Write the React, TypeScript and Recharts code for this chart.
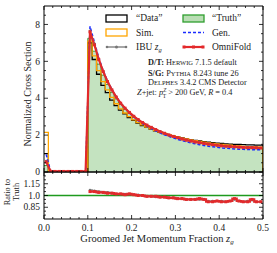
import React from 'react';
import { ComposedChart, Line, Area, XAxis, YAxis } from 'recharts';

// bin edges / centres (width 0.01)
const binLow = [
  0.0, 0.01, 0.02, 0.03, 0.04, 0.05, 0.06, 0.07, 0.08, 0.09,
  0.1, 0.11, 0.12, 0.13, 0.14, 0.15, 0.16, 0.17, 0.18, 0.19,
  0.2, 0.21, 0.22, 0.23, 0.24, 0.25, 0.26, 0.27, 0.28, 0.29,
  0.3, 0.31, 0.32, 0.33, 0.34, 0.35, 0.36, 0.37, 0.38, 0.39,
  0.4, 0.41, 0.42, 0.43, 0.44, 0.45, 0.46, 0.47, 0.48, 0.49,
];
const binMid = [
  0.005, 0.015, 0.025, 0.035, 0.045, 0.055, 0.065, 0.075, 0.085, 0.095,
  0.105, 0.115, 0.125, 0.135, 0.145, 0.155, 0.165, 0.175, 0.185, 0.195,
  0.205, 0.215, 0.225, 0.235, 0.245, 0.255, 0.265, 0.275, 0.285, 0.295,
  0.305, 0.315, 0.325, 0.335, 0.345, 0.355, 0.365, 0.375, 0.385, 0.395,
  0.405, 0.415, 0.425, 0.435, 0.445, 0.455, 0.465, 0.475, 0.485, 0.495,
];

// "Data" (detector level, Herwig)
const dataVals = [
  1.0, 0.02, 0.02, 0.02, 0.02, 0.02, 0.02, 0.02, 0.02, 0.02,
  7.0, 6.1, 5.3, 4.7, 4.3, 3.9, 3.6, 3.35, 3.15, 2.95,
  2.8, 2.65, 2.52, 2.42, 2.32, 2.23, 2.15, 2.08, 2.01, 1.95,
  1.9, 1.85, 1.8, 1.76, 1.72, 1.68, 1.65, 1.62, 1.59, 1.57,
  1.55, 1.53, 1.51, 1.5, 1.49, 1.48, 1.47, 1.47, 1.46, 1.46,
];
// Sim.
const simVals = [
  2.15, 0.02, 0.02, 0.02, 0.02, 0.02, 0.02, 0.02, 0.02, 0.02,
  7.1, 6.3, 5.5, 4.9, 4.45, 4.05, 3.7, 3.42, 3.2, 3.0,
  2.83, 2.68, 2.55, 2.44, 2.34, 2.25, 2.17, 2.09, 2.02, 1.96,
  1.9, 1.84, 1.79, 1.74, 1.7, 1.66, 1.62, 1.58, 1.55, 1.52,
  1.49, 1.47, 1.45, 1.43, 1.41, 1.39, 1.38, 1.37, 1.36, 1.35,
];
// "Truth"
const truthVals = [
  0.35, 0.02, 0.02, 0.02, 0.02, 0.02, 0.02, 0.02, 0.02, 0.02,
  7.25, 6.55, 5.85, 5.25, 4.75, 4.32, 3.96, 3.66, 3.4, 3.17,
  2.97, 2.8, 2.65, 2.52, 2.4, 2.29, 2.19, 2.1, 2.02, 1.95,
  1.88, 1.82, 1.76, 1.71, 1.66, 1.62, 1.58, 1.54, 1.5, 1.47,
  1.44, 1.42, 1.4, 1.38, 1.37, 1.36, 1.35, 1.34, 1.34, 1.33,
];
// Gen.
const genVals = [
  0.95, 0.05, 0.02, 0.02, 0.02, 0.02, 0.02, 0.02, 0.02, 0.02,
  7.9, 7.05, 6.2, 5.5, 4.95, 4.48, 4.08, 3.74, 3.45, 3.2,
  2.98, 2.79, 2.62, 2.48, 2.35, 2.23, 2.12, 2.02, 1.93, 1.85,
  1.77, 1.7, 1.64, 1.58, 1.53, 1.48, 1.44, 1.4, 1.37, 1.34,
  1.31, 1.29, 1.27, 1.25, 1.24, 1.23, 1.22, 1.21, 1.2, 1.2,
];
// IBU z_g
const ibuVals = [
  0.6, 0.04, 0.03, 0.03, 0.03, 0.03, 0.03, 0.03, 0.03, 0.03,
  7.65, 6.95, 6.12, 5.46, 4.9, 4.45, 4.06, 3.73, 3.46, 3.23,
  3.02, 2.84, 2.68, 2.54, 2.42, 2.3, 2.19, 2.1, 2.01, 1.93,
  1.86, 1.79, 1.73, 1.68, 1.63, 1.59, 1.55, 1.51, 1.48, 1.45,
  1.42, 1.4, 1.38, 1.37, 1.35, 1.33, 1.32, 1.32, 1.31, 1.3,
];
// OmniFold
const omniVals = [
  0.55, 0.04, 0.03, 0.03, 0.03, 0.03, 0.03, 0.03, 0.03, 0.03,
  7.6, 6.9, 6.1, 5.45, 4.9, 4.45, 4.06, 3.73, 3.46, 3.23,
  3.02, 2.84, 2.68, 2.54, 2.42, 2.3, 2.19, 2.1, 2.01, 1.93,
  1.86, 1.79, 1.73, 1.68, 1.63, 1.59, 1.55, 1.51, 1.48, 1.45,
  1.42, 1.4, 1.38, 1.37, 1.35, 1.33, 1.32, 1.32, 1.31, 1.3,
];

// ratio panel, bins from 0.10 to 0.50
const ratioMid = binMid.slice(10);
const omniRatio = [
  1.05, 1.05, 1.04, 1.04, 1.03, 1.03, 1.02, 1.02, 1.01, 1.02,
  1.01, 1.0, 1.0, 0.99, 0.99, 0.99, 0.98, 0.98, 0.97, 0.97,
  0.96, 0.96, 0.95, 0.95, 0.95, 0.96, 0.95, 0.92, 0.92, 0.93,
  0.92, 0.92, 0.93, 0.96, 0.93, 0.92, 0.92, 0.95, 0.92, 0.92,
];
const ibuRatio = [
  1.07, 1.06, 1.05, 1.04, 1.04, 1.03, 1.02, 1.02, 1.02, 1.02,
  1.01, 1.01, 1.0, 0.99, 0.99, 0.98, 0.98, 0.98, 0.97, 0.97,
  0.96, 0.96, 0.95, 0.95, 0.95, 0.95, 0.95, 0.93, 0.93, 0.93,
  0.93, 0.92, 0.93, 0.95, 0.93, 0.92, 0.93, 0.94, 0.92, 0.92,
];
// truth / truth
const truthRatioX = [0, 0.5];
const truthRatio = [1.0, 1.0];

// ticks
const xTicks = [0, 0.02, 0.04, 0.06, 0.08, 0.1, 0.12, 0.14, 0.16, 0.18, 0.2, 0.22, 0.24, 0.26, 0.28, 0.3,
  0.32, 0.34, 0.36, 0.38, 0.4, 0.42, 0.44, 0.46, 0.48, 0.5];
const xMajors = [0, 0.1, 0.2, 0.3, 0.4, 0.5];
const xLabels = ['0.0', '0.1', '0.2', '0.3', '0.4', '0.5'];
const yTicks = [0, 0.5, 1, 1.5, 2, 2.5, 3, 3.5, 4, 4.5, 5, 5.5, 6, 6.5, 7, 7.5, 8, 8.5];
const yMajors = [0, 2, 4, 6, 8];
const yLabels = ['0', '2', '4', '6', '8'];
const rTicks = [0.75, 0.8, 0.85, 0.9, 0.95, 1.0, 1.05, 1.1, 1.15, 1.2, 1.25];
const rMajors = [0.85, 1.0, 1.15];
const rLabels = ['0.85', '1.0', '1.15'];

const histRows = binLow
  .map((x, i) => ({ x, data: dataVals[i], sim: simVals[i], truth: truthVals[i] }))
  .concat([{ x: 0.5, data: 0, sim: 0, truth: 0 }]);
const lineRows = binMid.map((x, i) => ({ x, gen: genVals[i], ibu: ibuVals[i], omni: omniVals[i] }));
const ratioRows = ratioMid.map((x, i) => ({ x, omni: omniRatio[i], ibu: ibuRatio[i] }));
const truthRatioRows = truthRatioX.map((x, i) => ({ x, truth: truthRatio[i] }));

const FONT = '"Liberation Serif", "DejaVu Serif", serif';
const RED = '#e3292b';

type Side = 'bottom' | 'top' | 'left' | 'right';
const tickFn = (side: Side, majors: number[], labels: string[] | null) => (props: any) => {
  const { x, y, payload, index } = props;
  const mi = majors.findIndex((m) => Math.abs(m - payload.value) < 1e-6);
  const len = mi >= 0 ? 4 : 2;
  let x2 = x;
  let y2 = y;
  if (side === 'bottom') y2 = y - len;
  if (side === 'top') y2 = y + len;
  if (side === 'left') x2 = x + len;
  if (side === 'right') x2 = x - len;
  return (
    <g key={`${side}-${index}`}>
      <line x1={x} y1={y} x2={x2} y2={y2} stroke="#000" strokeWidth={0.8} />
      {labels && mi >= 0 && side === 'bottom' && (
        <text x={x} y={y + 12} textAnchor="middle" fontSize={9.5} fontFamily={FONT} fill="#222">
          {labels[mi]}
        </text>
      )}
      {labels && mi >= 0 && side === 'left' && (
        <text x={x - 4} y={y + 3.2} textAnchor="end" fontSize={9.5} fontFamily={FONT} fill="#222">
          {labels[mi]}
        </text>
      )}
    </g>
  );
};

const squareDot = (color: string, s: number) => (p: any) => (
  <rect key={`sq-${p.index}`} x={p.cx - s / 2} y={p.cy - s / 2} width={s} height={s} fill={color} />
);
const roundDot = (color: string, r: number) => (p: any) => (
  <circle key={`rd-${p.index}`} cx={p.cx} cy={p.cy} r={r} fill={color} />
);

const axisLine = { stroke: '#000', strokeWidth: 1 };

// axes have a 1px band each (recharts skips zero-sized axes)
const xAxisCommon = {
  dataKey: 'x', type: 'number' as const, domain: [0, 0.5], ticks: xTicks, interval: 0, height: 1,
  tickSize: 0, tickMargin: 0, tickLine: false, axisLine, allowDataOverflow: true,
};

const App: React.FC = () => {
  return (
    <div style={{ position: 'absolute', left: 0, top: 0, width: 277, height: 253, background: '#fff' }}>
      <div style={{ position: 'absolute', left: 0, top: 0 }}>
        <ComposedChart width={277} height={182} margin={{ top: 5, right: 13, bottom: 9, left: 43 }}>
          <XAxis {...xAxisCommon} tick={tickFn('bottom', xMajors, null)} />
          <XAxis {...xAxisCommon} xAxisId="top" orientation="top" tick={tickFn('top', xMajors, null)} />
          <YAxis type="number" domain={[0, 9]} ticks={yTicks} interval={0} width={1} tickSize={0}
            tickMargin={0} tickLine={false} axisLine={axisLine} allowDataOverflow
            tick={tickFn('left', yMajors, yLabels)} />
          <YAxis yAxisId="right" orientation="right" type="number" domain={[0, 9]} ticks={yTicks}
            interval={0} width={1} tickSize={0} tickMargin={0} tickLine={false} axisLine={axisLine}
            allowDataOverflow tick={tickFn('right', yMajors, null)} />
          <Area data={histRows} dataKey="truth" type="stepAfter" stroke="#38a238" strokeWidth={1}
            fill="#c4e3c0" fillOpacity={1} isAnimationActive={false} dot={false} activeDot={false} />
          <Line data={histRows} dataKey="data" type="stepAfter" stroke="#000" strokeWidth={1.3}
            dot={false} activeDot={false} isAnimationActive={false} />
          <Line data={histRows} dataKey="sim" type="stepAfter" stroke="#ffa500" strokeWidth={1.3}
            dot={false} activeDot={false} isAnimationActive={false} />
          <Line data={lineRows} dataKey="gen" type="linear" stroke="#1a2cff" strokeWidth={1.5}
            strokeDasharray="3 2" dot={false} activeDot={false} isAnimationActive={false} />
          <Line data={lineRows} dataKey="ibu" type="linear" stroke="#888" strokeWidth={1.5}
            dot={roundDot('#777', 1.3)} activeDot={false} isAnimationActive={false} />
          <Line data={lineRows} dataKey="omni" type="linear" stroke={RED} strokeWidth={2.2}
            dot={squareDot(RED, 3)} activeDot={false} isAnimationActive={false} />
        </ComposedChart>
      </div>
      <div style={{ position: 'absolute', left: 0, top: 171 }}>
        <ComposedChart width={277} height={82} margin={{ top: 0, right: 13, bottom: 33, left: 43 }}>
          <XAxis {...xAxisCommon} tick={tickFn('bottom', xMajors, xLabels)} />
          <XAxis {...xAxisCommon} xAxisId="top" orientation="top" tick={tickFn('top', xMajors, null)} />
          <YAxis type="number" domain={[0.7, 1.3]} ticks={rTicks} interval={0} width={1} tickSize={0}
            tickMargin={0} tickLine={false} axisLine={axisLine} allowDataOverflow
            tick={tickFn('left', rMajors, rLabels)} />
          <YAxis yAxisId="right" orientation="right" type="number" domain={[0.7, 1.3]} ticks={rTicks}
            interval={0} width={1} tickSize={0} tickMargin={0} tickLine={false} axisLine={axisLine}
            allowDataOverflow tick={tickFn('right', rMajors, null)} />
          <Line data={truthRatioRows} dataKey="truth" type="linear" stroke="#1e9a1e" strokeWidth={1.3}
            dot={false} activeDot={false} isAnimationActive={false} />
          <Line data={ratioRows} dataKey="ibu" type="step" stroke="#888" strokeWidth={1.5}
            dot={roundDot('#777', 1.3)} activeDot={false} isAnimationActive={false} />
          <Line data={ratioRows} dataKey="omni" type="step" stroke={RED} strokeWidth={2.2}
            dot={squareDot(RED, 3)} activeDot={false} isAnimationActive={false} />
        </ComposedChart>
      </div>
      <svg width={277} height={253} style={{ position: 'absolute', left: 0, top: 0, pointerEvents: 'none' }}
        fontFamily={FONT} fill="#222">
        {/* legend */}
        <rect x={106} y={15} width={21} height={7} fill="none" stroke="#000" strokeWidth={1.3} />
        <text x={136} y={21} fontSize={9.5}>“Data”</text>
        <rect x={183} y={15} width={21} height={7} fill="#b9ddb4" stroke="#2f9f2f" strokeWidth={1.3} />
        <text x={212} y={21} fontSize={9.5}>“Truth”</text>
        <rect x={106} y={29} width={21} height={7} fill="none" stroke="#ffa500" strokeWidth={1.3} />
        <text x={136} y={35.5} fontSize={9.5}>Sim.</text>
        <line x1={183} y1={32.5} x2={204} y2={32.5} stroke="#1a2cff" strokeWidth={1.5} strokeDasharray="3 2" />
        <text x={212} y={35.5} fontSize={9.5}>Gen.</text>
        <line x1={107} y1={47} x2={126} y2={47} stroke="#888" strokeWidth={1.5} />
        <circle cx={107} cy={47} r={1.3} fill="#777" />
        <circle cx={116.5} cy={47} r={1.5} fill="#777" />
        <circle cx={126} cy={47} r={1.3} fill="#777" />
        <text x={136} y={50} fontSize={9.5}>
          IBU <tspan fontStyle="italic">z</tspan>
          <tspan fontStyle="italic" fontSize={6.5} dy={2}>g</tspan>
        </text>
        <line x1={184} y1={47} x2={203} y2={47} stroke={RED} strokeWidth={2.2} />
        <rect x={182.5} y={45.5} width={3} height={3} fill={RED} />
        <rect x={192} y={45.5} width={3} height={3} fill={RED} />
        <rect x={201.5} y={45.5} width={3} height={3} fill={RED} />
        <text x={212} y={50} fontSize={9.5}>OmniFold</text>
        {/* annotations */}
        <text x={148} y={65} fontSize={8.3}>
          <tspan fontWeight="bold">D/T:</tspan> H<tspan fontSize={6.5}>ERWIG</tspan> 7.1.5 default
        </text>
        <text x={148} y={75.5} fontSize={8.3}>
          <tspan fontWeight="bold">S/G:</tspan> P<tspan fontSize={6.5}>YTHIA</tspan> 8.243 tune 26
        </text>
        <text x={148} y={85} fontSize={8.3}>
          D<tspan fontSize={6.5}>ELPHES</tspan> 3.4.2 CMS Detector
        </text>
        <text x={137} y={95} fontSize={8.3}>
          <tspan fontStyle="italic">Z</tspan>+jet: <tspan fontStyle="italic">p</tspan>
          <tspan fontSize={5.5} dy={-3.5} fontStyle="italic">Z</tspan>
          <tspan fontSize={5.5} dx={-3.5} dy={6}>T</tspan>
          <tspan dy={-2.5}> &gt; 200 GeV, </tspan>
          <tspan fontStyle="italic">R</tspan> = 0.4
        </text>
        {/* axis titles */}
        <text x={0} y={0} fontSize={10} textAnchor="middle" transform="translate(31,94) rotate(-90)">
          Normalized Cross Section
        </text>
        <text x={0} y={0} fontSize={8.3} textAnchor="middle" transform="translate(10,192) rotate(-90)">
          Ratio to
        </text>
        <text x={0} y={0} fontSize={8.3} textAnchor="middle" transform="translate(18.5,192) rotate(-90)">
          Truth
        </text>
        <text x={157} y={242} fontSize={10.5} textAnchor="middle">
          Groomed Jet Momentum Fraction <tspan fontStyle="italic">z</tspan>
          <tspan fontStyle="italic" fontSize={7} dy={2}>g</tspan>
        </text>
      </svg>
    </div>
  );
};

export default App;
